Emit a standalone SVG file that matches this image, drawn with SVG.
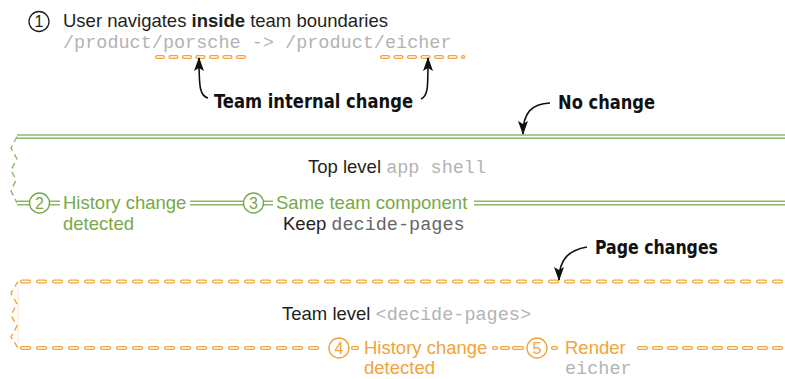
<svg xmlns="http://www.w3.org/2000/svg" width="785" height="379" viewBox="0 0 785 379">
<defs>
<marker id="ah" viewBox="0 0 14 10" refX="13" refY="5" markerWidth="14" markerHeight="10" markerUnits="userSpaceOnUse" orient="auto">
<path d="M0,0 L14,5 L0,10 L3,5 z" fill="#111"/>
</marker>
</defs>
<style>
text{font-family:"Liberation Sans",Arial,sans-serif;font-size:18.5px;fill:#231f20}
.mono{font-family:"Liberation Mono","Courier New",monospace;fill:#b3b3b3}
.dmono{font-family:"Liberation Mono","Courier New",monospace;fill:#666}
.g{fill:#78a948}
.o{fill:#f2a33a}
.lbl{font-family:"DejaVu Sans Condensed","DejaVu Sans",sans-serif;font-weight:bold;font-size:20px;fill:#111}
.num{font-size:16px;text-anchor:middle}
.gl{fill:none;stroke:#8db86b;stroke-width:4.8}
.gw{fill:none;stroke:#fff;stroke-width:1.8}
.ol{fill:none;stroke:#f2a33a;stroke-width:4.2;stroke-linecap:round}
.ow{fill:none;stroke:#fff;stroke-width:1.6;stroke-linecap:round}
.zg{fill:none;stroke:#8db86b;stroke-width:1.4;stroke-dasharray:6 4}
.zo{fill:none;stroke:#f2a33a;stroke-width:1.4;stroke-dasharray:6 4}
.arr{fill:none;stroke:#111;stroke-width:1.6;marker-end:url(#ah)}
</style>
<rect width="785" height="379" fill="#fff"/>

<g id="step1">
<circle cx="39" cy="21.5" r="10" fill="none" stroke="#231f20" stroke-width="1.3"/>
<text class="num" x="39" y="27">1</text>
<text x="63" y="27">User navigates <tspan font-weight="bold">inside</tspan> team boundaries</text>
<text class="mono" x="63" y="48">/product/porsche -&gt; /product/eicher</text>
<path class="ol" d="M157,57 H244" stroke-dasharray="6 7.5"/>
<path class="ow" d="M157,57 H244" stroke-dasharray="6 7.5"/>
<path class="ol" d="M382,57 H463.2" stroke-dasharray="6 7.5"/>
<path class="ow" d="M382,57 H463.2" stroke-dasharray="6 7.5"/>
</g>

<g id="label-team-internal">
<text class="lbl" x="214" y="108" textLength="199" lengthAdjust="spacingAndGlyphs">Team internal change</text>
</g>
<g id="label-no-change">
<text class="lbl" x="558" y="109" textLength="97" lengthAdjust="spacingAndGlyphs">No change</text>
</g>
<g id="label-page-changes">
<text class="lbl" x="595" y="254" textLength="123" lengthAdjust="spacingAndGlyphs">Page changes</text>
</g>

<g id="top-level">
<path class="gl" d="M17,136.7 H785"/>
<path class="gw" d="M17,136.7 H785"/>
<path class="zg" d="M17,136.7 L11,148 L17,159 L11,170 L16,180 L11,191 L17,203"/>
<path class="gl" d="M17,203 H30 M49,203 H60 M190,203 H244 M263,203 H273 M474,203 H785"/>
<path class="gw" d="M17,203 H30 M49,203 H60 M190,203 H244 M263,203 H273 M474,203 H785"/>
<text x="308" y="173">Top level <tspan class="mono">app shell</tspan></text>
</g>

<g id="step2">
<circle cx="39.5" cy="203" r="10" fill="#fff" stroke="#78a948" stroke-width="1.4"/>
<text class="num g" x="39.5" y="208.8">2</text>
<text class="g" x="63" y="208.5">History change</text>
<text class="g" x="63" y="229.5">detected</text>
</g>

<g id="step3">
<circle cx="253.5" cy="203" r="10" fill="#fff" stroke="#78a948" stroke-width="1.4"/>
<text class="num g" x="253.5" y="208.8">3</text>
<text class="g" x="276" y="208.5">Same team component</text>
<text x="283" y="229.5">Keep <tspan class="dmono">decide-pages</tspan></text>
</g>

<g id="team-level">
<line x1="18" y1="286" x2="18" y2="344" stroke="#f2a33a" stroke-opacity="0.3" stroke-width="1"/>
<path class="zo" d="M18,281.5 L11,293 L17,304 L11,315 L17,326 L11,337 L18,348"/>
<path class="ol" d="M22,281.5 H785" stroke-dasharray="7 9"/>
<path class="ow" d="M22,281.5 H785" stroke-dasharray="7 9"/>
<path class="ol" d="M22,348 H324" stroke-dasharray="7 9"/>
<path class="ow" d="M22,348 H324" stroke-dasharray="7 9"/>
<path class="ol" d="M353,348 H357 M494,348 H496 M502,348 H508 M514,348 H522 M553,348 H556" />
<path class="ow" d="M353,348 H357 M494,348 H496 M502,348 H508 M514,348 H522 M553,348 H556" />
<path class="ol" d="M639,348 H785" stroke-dasharray="7 8"/>
<path class="ow" d="M639,348 H785" stroke-dasharray="7 8"/>
<text x="282" y="320">Team level <tspan class="mono">&lt;decide-pages&gt;</tspan></text>
</g>

<g id="step4">
<circle cx="339" cy="348" r="10" fill="#fff" stroke="#f2a33a" stroke-width="1.4"/>
<text class="num o" x="339" y="353.8">4</text>
<text class="o" x="364" y="353.5">History change</text>
<text class="o" x="364" y="374">detected</text>
</g>

<g id="step5">
<circle cx="537" cy="348" r="10" fill="#fff" stroke="#f2a33a" stroke-width="1.4"/>
<text class="num o" x="537" y="353.8">5</text>
<text class="o" x="565" y="353.5">Render</text>
<text class="mono" x="565" y="374">eicher</text>
</g>

<g id="connectors">
<path class="arr" d="M208,98 C200,96 199,88 199,58"/>
<path class="arr" d="M421,99 C428,96 428,88 428,58"/>
<path class="arr" d="M550,103 C532,104 523,112 523,134"/>
<path class="arr" d="M587,247 C570,250 559,258 559,280"/>
</g>
</svg>
